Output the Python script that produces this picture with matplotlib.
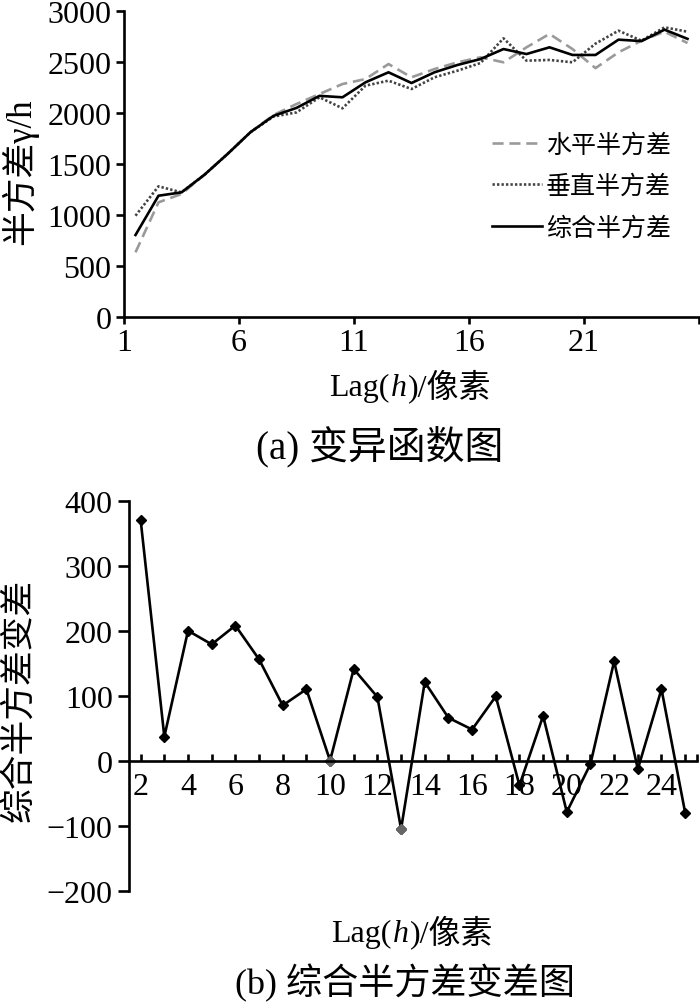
import matplotlib
matplotlib.use('Agg')
import matplotlib.pyplot as plt
from matplotlib.offsetbox import TextArea, HPacker, AnchoredOffsetbox

# ---------------- data ----------------
lags = list(range(1, 26))
horizontal = [634, 1124, 1206, 1395, 1598, 1812, 1980, 2088, 2186, 2284, 2333, 2480, 2350,
              2431, 2497, 2546, 2497, 2644, 2775, 2627, 2440, 2595, 2709, 2797, 2686]
vertical = [993, 1281, 1222, 1395, 1598, 1812, 1965, 2006, 2154, 2046, 2268, 2317, 2235,
            2350, 2415, 2490, 2732, 2513, 2520, 2497, 2680, 2807, 2709, 2840, 2797]
combined = [804, 1189, 1222, 1395, 1598, 1812, 1972, 2050, 2168, 2154, 2301, 2399, 2294,
            2399, 2471, 2529, 2627, 2578, 2644, 2569, 2569, 2719, 2705, 2817, 2727]
series_labels = ['水平半方差', '垂直半方差', '综合半方差']

diff_lags = list(range(2, 26))
combined_diff = [370, 37, 200, 179, 208, 156, 85, 110, 0, 141, 98, -105, 121, 66, 48, 99,
                 -38, 69, -79, -5, 153, -13, 110, -80]
gray_marker_lags = [10, 13]

top_yticks = [0, 500, 1000, 1500, 2000, 2500, 3000]
bottom_yticks = [-200, -100, 0, 100, 200, 300, 400]

SERIF = 'Liberation Serif'
MIX = ['Liberation Serif', 'Noto Sans CJK SC']
plt.rcParams['font.family'] = MIX

fig = plt.figure(figsize=(7, 10.04), dpi=100)
W, H = 700, 1004


def px_axes(left, top, right, bottom):
    return fig.add_axes([left / W, 1 - bottom / H, (right - left) / W, (bottom - top) / H])


def label_lag(xc, yc, size):
    parts = [TextArea('Lag(', textprops=dict(fontsize=size, family=SERIF)),
             TextArea('h', textprops=dict(fontsize=size, family=SERIF, style='italic')),
             TextArea(')/像素', textprops=dict(fontsize=size, family=MIX))]
    box = HPacker(children=parts, align='baseline', pad=0, sep=1)
    anch = AnchoredOffsetbox(loc='center', child=box, pad=0, borderpad=0, frameon=False,
                             bbox_to_anchor=(xc / W, 1 - yc / H),
                             bbox_transform=fig.transFigure)
    fig.add_artist(anch)


LW = 1.9
TICK_FS = 23

# ---------------- top chart ----------------
ax1 = px_axes(124, 12, 699, 318)
ax1.plot(lags, horizontal, color='#9a9a9a', lw=LW, dashes=(4.2, 2.2), label=series_labels[0])
ax1.plot(lags, vertical, color='#444444', lw=LW, linestyle=(0, (0.9, 0.8)), label=series_labels[1])
ax1.plot(lags, combined, color='black', lw=LW, label=series_labels[2])
ax1.set_xlim(0.5, 25.5)
ax1.set_ylim(0, 3000)
ax1.set_yticks(top_yticks)
ax1.set_xticks([l - 0.5 for l in lags[::5]] + [lags[-1] + 0.5])
ax1.set_xticklabels([str(l) for l in lags[::5]] + [''])
for s in ['top', 'right']:
    ax1.spines[s].set_visible(False)
for s in ['left', 'bottom']:
    ax1.spines[s].set_linewidth(LW)
ax1.tick_params(axis='y', direction='out', length=6, width=LW, pad=3, labelsize=TICK_FS)
ax1.tick_params(axis='x', direction='out', length=5, width=LW, pad=3, labelsize=TICK_FS)
leg = ax1.legend(loc='upper left', bbox_to_anchor=(492 / W, 1 - 134 / H),
                 bbox_transform=fig.transFigure, frameon=False, fontsize=18,
                 handlelength=2.0, handletextpad=0.15, labelspacing=0.72,
                 borderpad=0, borderaxespad=0)

fig.text(20 / W, 1 - 172 / H, '半方差γ/h', rotation=90, ha='center', va='center', fontsize=25)
label_lag(410, 386, 23)
fig.text(380 / W, 1 - 448 / H, '(a) 变异函数图', ha='center', va='center', fontsize=28)

# ---------------- bottom chart ----------------
ax2 = px_axes(129.3, 501.7, 697, 891.7)
ax2.plot(diff_lags, combined_diff, color='black', lw=LW, marker='D', ms=5,
         markerfacecolor='black', markeredgecolor='black')
gx = [l for l in diff_lags if l in gray_marker_lags]
gy = [v for l, v in zip(diff_lags, combined_diff) if l in gray_marker_lags]
ax2.plot(gx, gy, linestyle='none', marker='D', ms=5, color='#666666')
ax2.set_xlim(1.52, 25.5)
ax2.set_ylim(-200, 400)
ax2.set_yticks(bottom_yticks)
ax2.set_yticklabels(['\u2212200', '\u2212100', '0', '100', '200', '300', '400'])
ax2.set_xticks(diff_lags + [25.5])
ax2.set_xticklabels([str(l) if l % 2 == 0 else '' for l in diff_lags] + [''])
ax2.spines['bottom'].set_position(('data', 0))
for s in ['top', 'right']:
    ax2.spines[s].set_visible(False)
for s in ['left', 'bottom']:
    ax2.spines[s].set_linewidth(LW)
ax2.tick_params(axis='y', direction='out', length=8, width=LW, pad=4, labelsize=TICK_FS)
ax2.tick_params(axis='x', direction='in', length=5, width=LW, pad=8, labelsize=TICK_FS)

fig.text(20 / W, 1 - 700 / H, '综合半方差变差', rotation=90, ha='center', va='center', fontsize=25)
label_lag(412, 932, 23)
fig.text(405 / W, 1 - 983 / H, '(b) 综合半方差变差图', ha='center', va='center', fontsize=26)

fig.savefig('out.png', dpi=100)
